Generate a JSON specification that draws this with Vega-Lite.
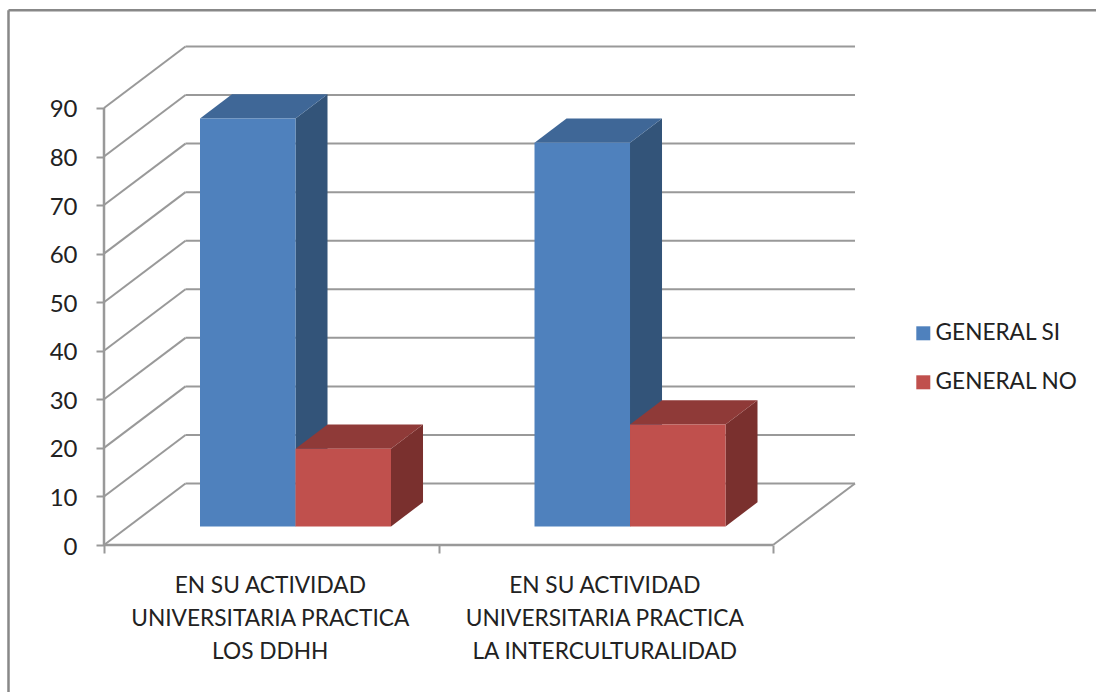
{
"$schema":"https://vega.github.io/schema/vega-lite/v6.json",
"width":751,"height":498,
"autosize":{"type":"none"},
"padding":{"left":104,"top":47,"right":241,"bottom":147},
"background":"white",
"config":{"view":{"stroke":null},"font":"Lato"},
"datasets":{
"barras":[
{"categoria":"EN SU ACTIVIDAD\nUNIVERSITARIA PRACTICA\nLOS DDHH","serie":"GENERAL SI","valor":84},
{"categoria":"EN SU ACTIVIDAD\nUNIVERSITARIA PRACTICA\nLOS DDHH","serie":"GENERAL NO","valor":16},
{"categoria":"EN SU ACTIVIDAD\nUNIVERSITARIA PRACTICA\nLA INTERCULTURALIDAD","serie":"GENERAL SI","valor":79},
{"categoria":"EN SU ACTIVIDAD\nUNIVERSITARIA PRACTICA\nLA INTERCULTURALIDAD","serie":"GENERAL NO","valor":21}
],
"niveles":[{"t":0},{"t":10},{"t":20},{"t":30},{"t":40},{"t":50},{"t":60},{"t":70},{"t":80},{"t":90}]
},
"layer":[
{"data":{"name":"niveles"},
 "transform":[{"calculate":"0","as":"xa"},{"calculate":"0.2436","as":"xb"},{"calculate":"datum.t+12.66","as":"yb"}],
 "mark":{"type":"rule","color":"#999999","strokeWidth":2},
 "encoding":{
  "x":{"field":"xa","type":"quantitative","scale":{"domain":[0,2.2451],"nice":false,"zero":false},
   "axis":{"values":[0,1,2],"labels":false,"domain":false,"grid":false,"ticks":true,"tickSize":8,"tickWidth":2,"tickColor":"#999999","title":null}},
  "x2":{"field":"xb"},
  "y":{"field":"t","type":"quantitative","scale":{"domain":[0,102.55],"nice":false,"zero":false},
   "axis":{"values":[0,10,20,30,40,50,60,70,80,90],"domain":false,"grid":false,"tickSize":8,"tickWidth":2,"tickColor":"#999999","labelFontSize":24,"labelColor":"#222222","labelPadding":19,"labelOffset":2,"labelFont":"Lato","title":null}},
  "y2":{"field":"yb"}}},
{"data":{"name":"niveles"},
 "transform":[{"calculate":"datum.t+12.66","as":"yb"}],
 "mark":{"type":"rule","color":"#999999","strokeWidth":2},
 "encoding":{
  "x":{"datum":0.2436,"type":"quantitative","scale":{"domain":[0,2.2451],"nice":false,"zero":false}},
  "x2":{"datum":2.2451},
  "y":{"field":"yb","type":"quantitative","scale":{"domain":[0,102.55],"nice":false,"zero":false}}}},
{"data":{"values":[{}]},"mark":{"type":"rule","color":"#999999","strokeWidth":2.5},
 "encoding":{
  "x":{"datum":0,"type":"quantitative","scale":{"domain":[0,2.2451],"nice":false,"zero":false}},
  "y":{"datum":0,"type":"quantitative","scale":{"domain":[0,102.55],"nice":false,"zero":false}},
  "y2":{"datum":90}}},
{"data":{"values":[{}]},"mark":{"type":"rule","color":"#999999","strokeWidth":2.5},
 "encoding":{
  "x":{"datum":0,"type":"quantitative","scale":{"domain":[0,2.2451],"nice":false,"zero":false}},
  "x2":{"datum":2},
  "y":{"datum":0,"type":"quantitative","scale":{"domain":[0,102.55],"nice":false,"zero":false}}}},
{"data":{"values":[{}]},"mark":{"type":"rule","color":"#999999","strokeWidth":2},
 "encoding":{
  "x":{"datum":2,"type":"quantitative","scale":{"domain":[0,2.2451],"nice":false,"zero":false}},
  "x2":{"datum":2.2451},
  "y":{"datum":0,"type":"quantitative","scale":{"domain":[0,102.55],"nice":false,"zero":false}},
  "y2":{"datum":12.66}}},
{"data":{"values":[{}]},"mark":{"type":"rule","color":"#888888","strokeWidth":2.5},
 "encoding":{
  "x":{"datum":-0.2855,"type":"quantitative","scale":{"domain":[0,2.2451],"nice":false,"zero":false}},
  "x2":{"datum":2.966},
  "y":{"datum":110.1,"type":"quantitative","scale":{"domain":[0,102.55],"nice":false,"zero":false}}}},
{"data":{"values":[{}]},"mark":{"type":"rule","color":"#888888","strokeWidth":2.5},
 "encoding":{
  "x":{"datum":-0.2855,"type":"quantitative","scale":{"domain":[0,2.2451],"nice":false,"zero":false}},
  "y":{"datum":110.1,"type":"quantitative","scale":{"domain":[0,102.55],"nice":false,"zero":false}},
  "y2":{"datum":-30.5}}},
{"data":{"name":"barras"},
 "transform":[
  {"calculate":"indexof(datum.categoria,'DDHH')>=0?0:1","as":"c"},
  {"calculate":"datum.serie=='GENERAL SI'?0:1","as":"s"},
  {"calculate":"datum.c+0.287+datum.s*0.2855+0.2855","as":"x1"},
  {"calculate":"[0,1]","as":"k"},{"flatten":["k"]},
  {"calculate":"datum.x1+datum.k*0.0957","as":"px"},
  {"calculate":"3.81+datum.k*5","as":"py"},
  {"calculate":"3.81+datum.valor+datum.k*5","as":"py2"},
  {"calculate":"datum.categoria+datum.serie","as":"id"}],
 "mark":{"type":"area","orient":"vertical","interpolate":"linear"},
 "encoding":{
  "x":{"field":"px","type":"quantitative","scale":{"domain":[0,2.2451],"nice":false,"zero":false}},
  "y":{"field":"py","type":"quantitative","stack":null,"scale":{"domain":[0,102.55],"nice":false,"zero":false}},
  "y2":{"field":"py2"},
  "detail":{"field":"id"},
  "color":{"field":"serie","type":"nominal","legend":null,"scale":{"domain":["GENERAL SI","GENERAL NO"],"range":["#335479","#7A302E"]}}}},
{"data":{"name":"barras"},
 "transform":[
  {"calculate":"indexof(datum.categoria,'DDHH')>=0?0:1","as":"c"},
  {"calculate":"datum.serie=='GENERAL SI'?0:1","as":"s"},
  {"calculate":"datum.c+0.287+datum.s*0.2855","as":"x0"},
  {"calculate":"[0,1,2,3]","as":"k"},{"flatten":["k"]},
  {"calculate":"datum.x0+[0,0.0957,0.2855,0.3812][datum.k]","as":"px"},
  {"calculate":"3.81+datum.valor+[0,0,0,5][datum.k]","as":"py"},
  {"calculate":"3.81+datum.valor+[0,5,5,5][datum.k]","as":"py2"},
  {"calculate":"datum.categoria+datum.serie","as":"id"}],
 "mark":{"type":"area","orient":"vertical","interpolate":"linear"},
 "encoding":{
  "x":{"field":"px","type":"quantitative","scale":{"domain":[0,2.2451],"nice":false,"zero":false}},
  "y":{"field":"py","type":"quantitative","stack":null,"scale":{"domain":[0,102.55],"nice":false,"zero":false}},
  "y2":{"field":"py2"},
  "detail":{"field":"id"},
  "color":{"field":"serie","type":"nominal","legend":null,"scale":{"domain":["GENERAL SI","GENERAL NO"],"range":["#3F6797","#8F3A38"]}}}},
{"data":{"name":"barras"},
 "transform":[
  {"calculate":"indexof(datum.categoria,'DDHH')>=0?0:1","as":"c"},
  {"calculate":"datum.serie=='GENERAL SI'?0:1","as":"s"},
  {"calculate":"datum.c+0.287+datum.s*0.2855","as":"x0"},
  {"calculate":"datum.x0+0.2855","as":"x1"},
  {"calculate":"3.81","as":"base"},
  {"calculate":"3.81+datum.valor","as":"tope"}],
 "mark":{"type":"rect"},
 "encoding":{
  "x":{"field":"x0","type":"quantitative","scale":{"domain":[0,2.2451],"nice":false,"zero":false}},
  "x2":{"field":"x1"},
  "y":{"field":"base","type":"quantitative","scale":{"domain":[0,102.55],"nice":false,"zero":false}},
  "y2":{"field":"tope"},
  "color":{"field":"serie","type":"nominal","title":null,
   "scale":{"domain":["GENERAL SI","GENERAL NO"],"range":["#4F81BD","#C0504D"]},
   "legend":{"orient":"none","legendX":808,"legendY":275,"symbolType":"square","symbolSize":196,"symbolStrokeWidth":0,"labelFontSize":22.6,"labelFont":"Lato","labelColor":"#222222","labelOffset":1,"rowPadding":26,"labelLimit":300}}}},
{"data":{"name":"barras"},
 "transform":[
  {"filter":"datum.serie=='GENERAL SI'"},
  {"calculate":"indexof(datum.categoria,'DDHH')>=0?0.5:1.5","as":"cx"},
  {"calculate":"-8.4","as":"cy"}],
 "mark":{"type":"text","fontSize":22.7,"font":"Lato","color":"#222222","lineBreak":"\n","lineHeight":33,"align":"center","baseline":"middle","dx":-1},
 "encoding":{
  "x":{"field":"cx","type":"quantitative","scale":{"domain":[0,2.2451],"nice":false,"zero":false}},
  "y":{"field":"cy","type":"quantitative","scale":{"domain":[0,102.55],"nice":false,"zero":false}},
  "text":{"field":"categoria"}}}
],
"resolve":{"scale":{"color":"independent"}}
}
